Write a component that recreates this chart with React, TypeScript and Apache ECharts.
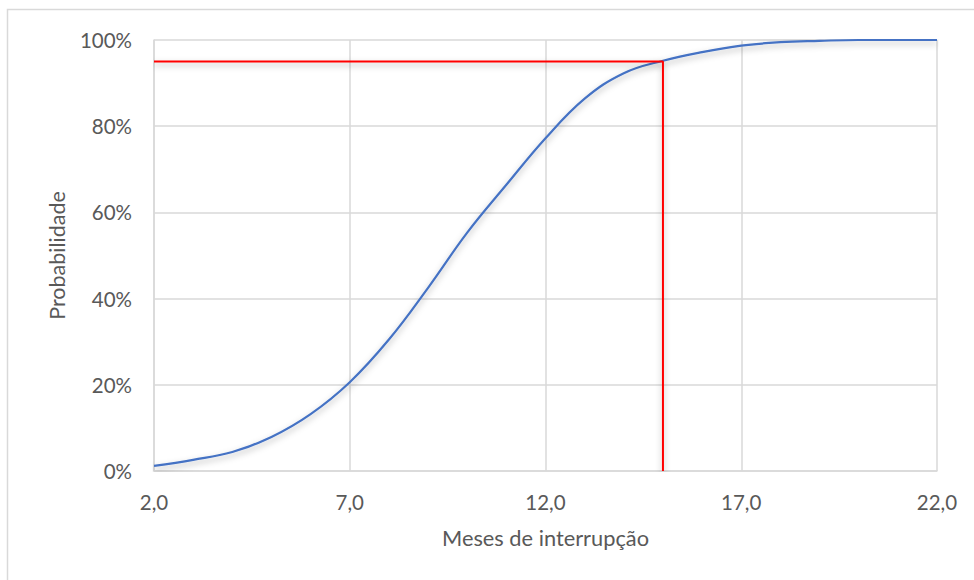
import React, { useEffect, useRef } from "react";
import * as echarts from "echarts";

// Meses de interrupção (x) e probabilidade acumulada em % (y)
const months: number[] = [2, 3, 4, 5, 6, 7, 8, 9, 10, 11, 12, 13, 14, 15, 16, 17, 18, 19, 20, 21, 22];
const probability: number[] = [1.2, 2.6, 4.4, 7.9, 13.2, 20.6, 30.5, 42.5, 55.3, 66.4, 77.2, 86.4, 92.3, 95.2, 97.2, 98.7, 99.5, 99.8, 100, 100, 100];

// Linha de referência: 95% de probabilidade em 15 meses
const refMonth = 15;
const refProbability = 95;

const xTicks = { min: 2, max: 22, interval: 5 };
const yTicks = { min: 0, max: 100, interval: 20 };

const FONT = "Lato";
const TEXT = "#595959";
const GRID = "#d9d9d9";

export default function App() {
  const ref = useRef<HTMLDivElement>(null);

  useEffect(() => {
    if (!ref.current) return;
    const chart = echarts.init(ref.current, undefined, { renderer: "svg" });

    const curve = months.map((m, i) => [m, probability[i]]);
    const refLine = [
      [xTicks.min, refProbability],
      [refMonth, refProbability],
      [refMonth, yTicks.min],
    ];

    const shadow = {
      shadowColor: "rgba(0,0,0,0.3)",
      shadowBlur: 6,
      shadowOffsetY: 3,
    };

    chart.setOption({
      animation: false,
      backgroundColor: "#ffffff",
      textStyle: { fontFamily: FONT, color: TEXT },
      grid: { left: 154, right: 37, top: 40, bottom: 109, containLabel: false },
      graphic: [
        {
          type: "rect",
          silent: true,
          shape: { x: 7.5, y: 9.5, width: 990, height: 600 },
          style: { fill: "none", stroke: GRID, lineWidth: 1.5 },
          z: -10,
        },
      ],
      xAxis: {
        type: "value",
        min: xTicks.min,
        max: xTicks.max,
        interval: xTicks.interval,
        name: "Meses de interrupção",
        nameLocation: "middle",
        nameGap: 55,
        nameTextStyle: { fontFamily: FONT, fontSize: 21.8, color: TEXT },
        axisLine: { show: true, lineStyle: { color: GRID, width: 1.5 } },
        axisTick: { show: false },
        axisLabel: {
          margin: 20,
          fontFamily: FONT,
          fontSize: 20.5,
          color: TEXT,
          formatter: (v: number) => v.toFixed(1).replace(".", ","),
        },
        splitLine: { show: true, lineStyle: { color: GRID, width: 1.5 } },
      },
      yAxis: {
        type: "value",
        min: yTicks.min,
        max: yTicks.max,
        interval: yTicks.interval,
        name: "Probabilidade",
        nameLocation: "middle",
        nameGap: 86,
        nameRotate: 90,
        nameTextStyle: { fontFamily: FONT, fontSize: 21.5, color: TEXT },
        axisLine: { show: true, lineStyle: { color: GRID, width: 1.5 } },
        axisTick: { show: false },
        axisLabel: {
          margin: 22,
          fontFamily: FONT,
          fontSize: 20.5,
          color: TEXT,
          formatter: (v: number) => `${v}%`,
        },
        splitLine: { show: true, lineStyle: { color: GRID, width: 1.5 } },
      },
      series: [
        {
          name: "Probabilidade",
          type: "line",
          data: curve,
          smooth: 0.4,
          showSymbol: false,
          symbol: "none",
          lineStyle: { color: "#4472C4", width: 2.2, ...shadow },
          z: 3,
        },
        {
          name: "95%",
          type: "line",
          data: refLine,
          showSymbol: false,
          symbol: "none",
          lineStyle: { color: "#FF0000", width: 2, ...shadow },
          z: 4,
        },
      ],
    });

    return () => chart.dispose();
  }, []);

  return (
    <div
      ref={ref}
      style={{ position: "fixed", left: 0, top: 0, width: 974, height: 580, background: "#fff" }}
    />
  );
}
